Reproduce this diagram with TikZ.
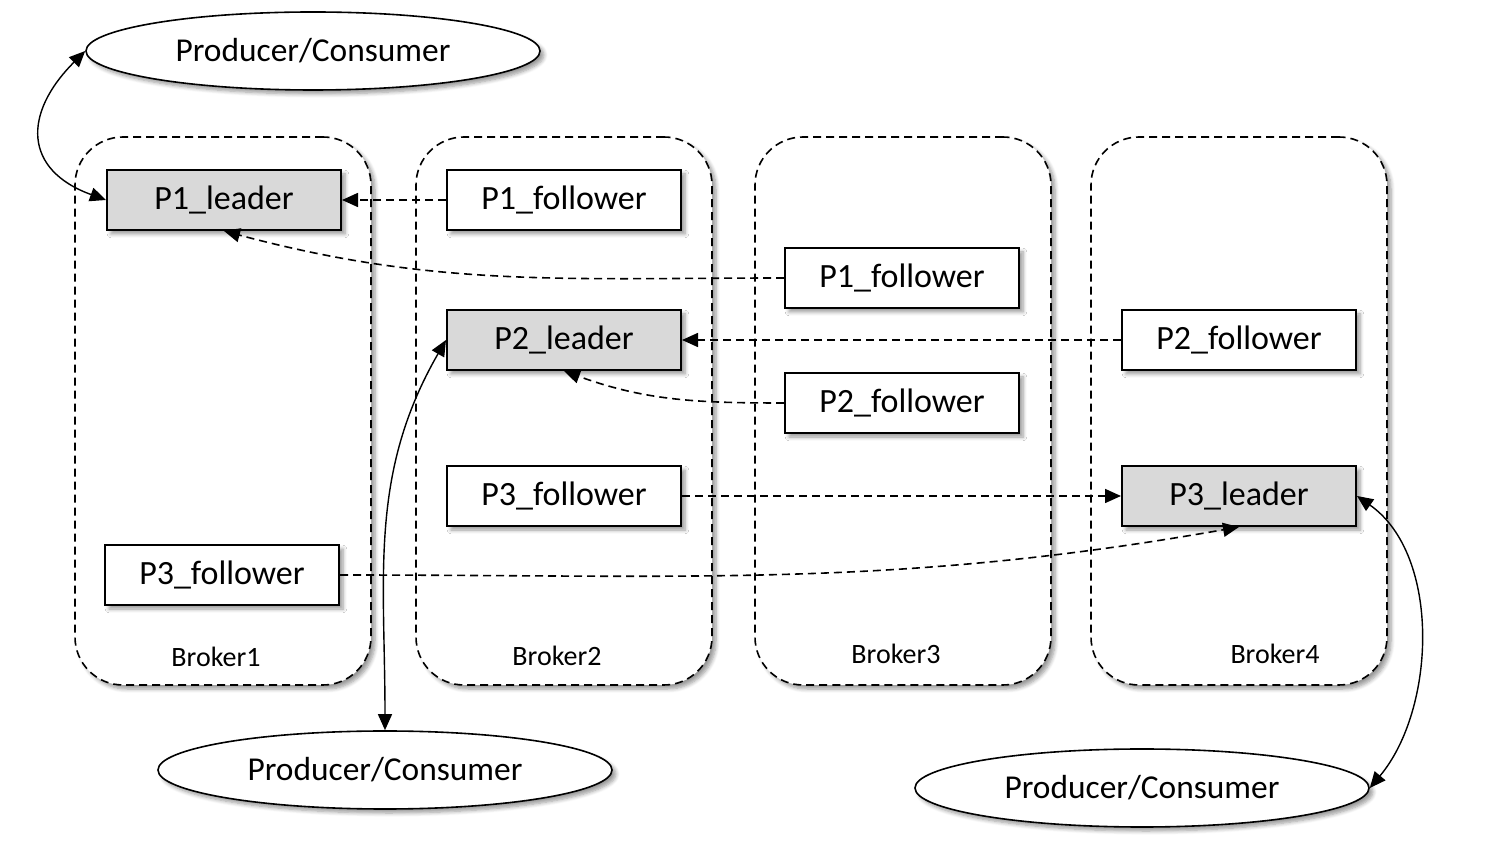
\documentclass[tikz,border=0pt]{standalone}
\usepackage{fontspec}
\setmainfont{Carlito}
\usetikzlibrary{shapes.geometric,shadows.blur,arrows.meta}

\tikzset{
  shade/.style={blur shadow={shadow xshift=2pt,shadow yshift=-2pt,shadow blur steps=6,shadow opacity=40}},
  part/.style={draw,line width=1pt,fill=white,minimum width=117pt,minimum height=30pt,inner sep=0pt,font=\fontsize{17}{20}\selectfont,shade},
  leader/.style={part,fill=black!15},
  broker/.style={draw,dashed,dash pattern=on 4pt off 2.5pt,line width=0.8pt,fill=white,rounded corners=24pt,minimum width=148pt,minimum height=274pt,shade},
  brokername/.style={font=\fontsize{14}{17}\selectfont},
  client/.style={ellipse,draw,line width=0.8pt,fill=white,minimum width=227pt,minimum height=39pt,inner sep=0pt,font=\fontsize{16.7}{20}\selectfont,shade},
  sync/.style={line width=0.8pt,dash pattern=on 4pt off 2.5pt,-{Triangle[length=8pt,width=7pt]}},
  io/.style={line width=0.7pt,{Triangle[length=8pt,width=7pt]}-{Triangle[length=8pt,width=7pt]}}
}

\begin{document}
\begin{tikzpicture}[x=0.5pt,y=0.5pt,yscale=-1,xscale=1]
                \useasboundingbox (0,0) rectangle (1500,854);
                % brokers
                \node [broker] (b1) at (223,411) {};
                \node [broker] (b2) at (564,411) {};
                \node [broker] (b3) at (903,411) {};
                \node [broker] (b4) at (1239,411) {};
                \node [brokername] (n1) at (216,657) {Broker1};
                \node [brokername] (n2) at (557,656) {Broker2};
                \node [brokername] (n3) at (896,654) {Broker3};
                \node [brokername] (n4) at (1275,654) {Broker4};
                % partitions
                \node [leader] (p1l) at (224,200) {P1\_leader};
                \node [part] (p1fa) at (564,200) {P1\_follower};
                \node [part] (p1fb) at (902,278) {P1\_follower};
                \node [leader] (p2l) at (564,340) {P2\_leader};
                \node [part] (p2fa) at (1239,340) {P2\_follower};
                \node [part] (p2fb) at (902,403) {P2\_follower};
                \node [part] (p3fa) at (564,496) {P3\_follower};
                \node [leader] (p3l) at (1239,496) {P3\_leader};
                \node [part] (p3fb) at (222,575) {P3\_follower};
                % clients
                \node [client] (c1) at (313,51) {Producer/Consumer};
                \node [client] (c2) at (385,770) {Producer/Consumer};
                \node [client] (c3) at (1142,788) {Producer/Consumer};
                % replication (angles flipped by yscale=-1)
                \draw [sync] (p1fa.west) -- (p1l.east);
                \draw [sync] (p1fb.west) to[out=180,in=15] (p1l.south);
                \draw [sync] (p2fa.west) -- (p2l.east);
                \draw [sync] (p2fb.west) to[out=180,in=20] (p2l.south);
                \draw [sync] (p3fa.east) -- (p3l.west);
                \draw [sync] (p3fb.east) to[out=0,in=170] (p3l.south);
                % read / write
                \draw [io] (c1.west) to[out=135,in=200,looseness=1.5] (p1l.west);
                \draw [io] (p2l.west) to[out=120,in=270] (c2.north);
                \draw [io] (p3l.east) to[out=35,in=-50,looseness=0.9] (c3.east);
            \end{tikzpicture}
\end{document}
